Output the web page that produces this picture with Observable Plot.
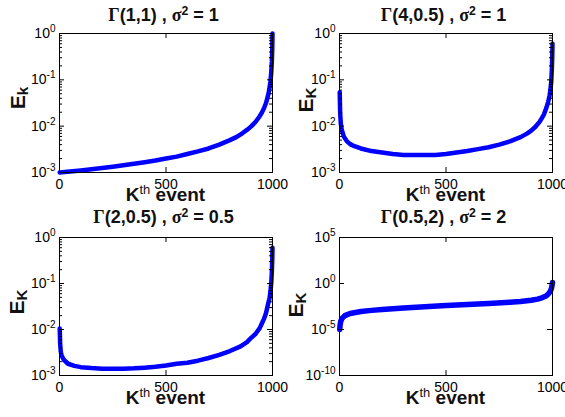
<!DOCTYPE html>
<html>
<head>
<meta charset="utf-8">
<script src="https://cdn.jsdelivr.net/npm/d3@7"></script>
<script src="https://cdn.jsdelivr.net/npm/@observablehq/plot@0.6"></script>
<style>
html,body{margin:0;padding:0;background:#fff;}
#wrap{position:relative;width:565px;height:417px;overflow:hidden;font-family:"Liberation Sans",Arial,Helvetica,sans-serif;color:#000;}
#wrap svg{position:absolute;overflow:visible;}
.lbl{position:absolute;white-space:nowrap;font-weight:bold;line-height:1;color:#111;}
.title{font-size:18px;}
.sym{font-family:"Liberation Serif","Times New Roman",serif;font-weight:bold;}
.title sup{font-size:0.68em;vertical-align:0;position:relative;top:-0.5em;}
.xlab{font-size:19px;}
.xlab sup{font-size:0.68em;position:relative;top:-0.55em;vertical-align:0;font-weight:normal;}
.ylab{font-size:21px;}
.ylab sub{font-size:0.72em;position:relative;top:0.2em;vertical-align:0;}
</style>
</head>
<body>
<div id="wrap"></div>
<script>
// ---- data ----
const gammaParams = ["1,1", "4,0.5", "2,0.5", "0.5,2"];
const sigma2 = ["1", "1", "0.5", "2"];
const ySubs = ["k", "K", "K", "K"];
const xTicks = [0, 500, 1000];
const yTicksA = [1e-3, 1e-2, 1e-1, 1];
const yTicksB = [1e-10, 1e-5, 1, 1e5];
const minorTicksA = [2e-3,3e-3,4e-3,5e-3,6e-3,7e-3,8e-3,9e-3,
                     2e-2,3e-2,4e-2,5e-2,6e-2,7e-2,8e-2,9e-2,
                     0.2,0.3,0.4,0.5,0.6,0.7,0.8,0.9];

const k1 = [1,50,100,150,200,250,300,350,400,450,500,550,600,650,700,750,800,830,860,880,900,920,940,950,960,970,980,985,990,994,997,999,1000];
const e1 = [0.00100,0.00105,0.00111,0.00118,0.00125,0.00133,0.00143,0.00154,0.00166,0.00181,0.0020,0.0022,0.0025,0.00285,0.0033,0.0040,0.0050,0.0058,0.0071,0.0083,0.0099,0.0123,0.0164,0.0196,0.0244,0.032,0.048,0.0625,0.091,0.14,0.25,0.5,1.0];

const k2 = [1,3,6,10,20,35,50,70,100,150,200,250,300,350,400,450,500,550,600,650,700,750,800,850,880,900,920,940,950,960,970,980,986,990,994,997,999,1000];
const e2 = [0.054,0.02,0.0115,0.0085,0.0060,0.0047,0.0041,0.0037,0.0033,0.0029,0.0027,0.0025,0.0024,0.0024,0.0024,0.0024,0.0025,0.0027,0.0029,0.0032,0.0035,0.0040,0.0047,0.0058,0.0069,0.0080,0.0097,0.0125,0.015,0.018,0.024,0.034,0.045,0.06,0.09,0.17,0.35,0.6];

const k3 = [1,3,6,10,20,40,70,100,150,200,250,300,350,400,450,500,550,600,650,700,750,800,850,880,900,920,940,950,960,970,980,986,990,994,997,999,1000];
const e3 = [0.0105,0.005,0.0033,0.0027,0.0022,0.0018,0.00162,0.00152,0.00145,0.00141,0.0014,0.0014,0.00143,0.00148,0.00155,0.00165,0.0018,0.0019,0.0021,0.0024,0.0028,0.0034,0.0043,0.0053,0.0066,0.0080,0.0107,0.0135,0.017,0.023,0.037,0.048,0.065,0.1,0.18,0.35,0.6];

const k4 = [1,3,6,12,25,50,100,150,200,300,400,500,600,700,800,850,900,930,950,970,980,990,995,998,1000];
const e4 = [1.0e-5,3.2e-5,7.9e-5,1.6e-4,3.2e-4,5.6e-4,8.9e-4,1.2e-3,1.5e-3,2.2e-3,3.0e-3,4.0e-3,5.2e-3,6.9e-3,9.3e-3,1.1e-2,1.5e-2,2.0e-2,2.8e-2,4.5e-2,7.1e-2,0.14,0.28,0.63,1.26];

// ---- layout ----
const W = 282, H = 205, ML = 59, MR = 10;
const pw = W - ML - MR;
const series = [[k1,e1],[k2,e2],[k3,e3],[k4,e4]];
const layout = [
  {left:0,   top:0,   mt:33, mb:33, dom:[1e-3,1], yt:yTicksA, minor:minorTicksA, sw:4.5, tBase:21,  ylx:24,  yly:98},
  {left:280, top:0,   mt:33, mb:33, dom:[1e-3,1], yt:yTicksA, minor:minorTicksA, sw:4.5, tBase:21,  ylx:312, yly:100},
  {left:0,   top:205, mt:32, mb:35, dom:[1e-3,1], yt:yTicksA, minor:minorTicksA, sw:4.5, tBase:223, ylx:23,  yly:302},
  {left:280, top:205, mt:32, mb:35, dom:[1e-10,1e5], yt:yTicksB, minor:[], sw:5.5, tBase:223, ylx:302, yly:305}
];

const wrap = document.getElementById("wrap");

layout.forEach((L, i) => {
  const ph = H - L.mt - L.mb;
  const data = series[i][0].map((k, j) => ({k, e: series[i][1][j]}));
  const svg = Plot.plot({
    width: W, height: H,
    marginLeft: ML, marginRight: MR, marginTop: L.mt, marginBottom: L.mb,
    x: {domain: [0, 1000], axis: null},
    y: {type: "log", domain: L.dom, axis: null},
    style: {fontFamily: "'Liberation Sans', Arial, sans-serif", fontSize: "14px", color: "#000", background: "transparent", overflow: "visible"},
    marks: [
      Plot.line(data, {x: "k", y: "e", stroke: "#0000ff", strokeWidth: L.sw}),
      Plot.frame({stroke: "#000", strokeWidth: 1}),
      Plot.tickY(L.yt, {y: d => d, insetRight: pw - 5, stroke: "#000"}),
      Plot.tickY(L.yt, {y: d => d, insetLeft: pw - 5, stroke: "#000"}),
      Plot.tickY(L.minor, {y: d => d, insetRight: pw - 3, stroke: "#000"}),
      Plot.tickY(L.minor, {y: d => d, insetLeft: pw - 3, stroke: "#000"}),
      Plot.tickX(xTicks, {x: d => d, insetTop: ph - 5, stroke: "#000"}),
      Plot.tickX(xTicks, {x: d => d, insetBottom: ph - 5, stroke: "#000"}),
      Plot.axisY({ticks: L.yt, anchor: "left", tickSize: 0, tickPadding: 4, fontSize: 14, label: null,
                  tickFormat: d => "10^" + Math.round(Math.log10(d))}),
      Plot.axisX({ticks: xTicks, anchor: "bottom", tickSize: 0, tickPadding: 7, fontSize: 14, label: null,
                  tickFormat: d => String(d)})
    ]
  });
  svg.style.left = L.left + "px";
  svg.style.top = L.top + "px";
  // turn "10^e" into 10 with superscript exponent
  svg.querySelectorAll('g[aria-label="y-axis tick label"] text').forEach(t => {
    const s = t.textContent;
    const [b, ex] = s.split("^");
    t.textContent = "";
    const t1 = document.createElementNS("http://www.w3.org/2000/svg", "tspan");
    t1.textContent = b;
    const t2 = document.createElementNS("http://www.w3.org/2000/svg", "tspan");
    t2.textContent = ex;
    t2.setAttribute("font-size", "10");
    t2.setAttribute("dy", "-6");
    t.appendChild(t1); t.appendChild(t2);
  });
  wrap.appendChild(svg);

  const fcx = L.left + ML + pw / 2;
  // title
  const ti = document.createElement("div");
  ti.className = "lbl title";
  ti.innerHTML = '<span class="sym">\u0393</span>(' + gammaParams[i] + ') , <span class="sym">\u03c3</span><sup>2</sup> = ' + sigma2[i];
  ti.style.left = (fcx - 2) + "px";
  ti.style.top = (L.tBase - 0.8465 * 18) + "px";
  ti.style.transform = "translateX(-50%)";
  wrap.appendChild(ti);
  // x label
  const xl = document.createElement("div");
  xl.className = "lbl xlab";
  xl.innerHTML = 'K<sup>th</sup> event';
  xl.style.left = fcx + "px";
  xl.style.top = (L.top + H - L.mb + 29 - 0.8465 * 19) + "px";
  xl.style.transform = "translateX(-50%)";
  wrap.appendChild(xl);
  // y label
  const yl = document.createElement("div");
  yl.className = "lbl ylab";
  yl.innerHTML = 'E<sub>' + ySubs[i] + '</sub>';
  yl.style.left = (L.ylx - 7.3) + "px";
  yl.style.top = L.yly + "px";
  yl.style.transform = "translate(-50%,-50%) rotate(-90deg)";
  wrap.appendChild(yl);
});
</script>
</body>
</html>
